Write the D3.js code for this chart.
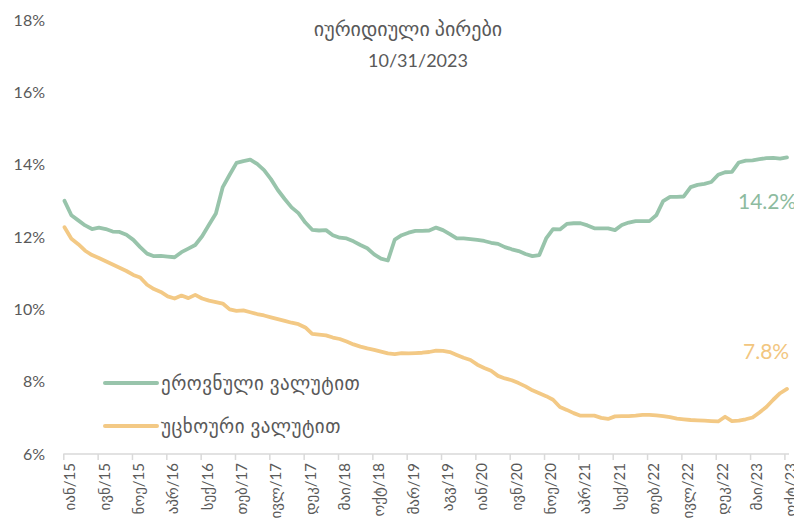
<!DOCTYPE html>
<html>
<head>
<meta charset="utf-8">
<script src="https://cdn.jsdelivr.net/npm/d3@7"></script>
<style>
  html, body { margin: 0; padding: 0; background: #ffffff; }
  svg { display: block; }
  text { font-family: "Lato", "DejaVu Sans", sans-serif; fill: #595959; }
</style>
</head>
<body>
<svg id="chart" width="794" height="526"></svg>
<script>
// Interest rates on loans to legal entities, monthly, Jan 2015 – Oct 2023 (%)
const titleLines = ["იურიდიული პირები", "10/31/2023"];
const seriesNames = ["ეროვნული ვალუტით", "უცხოური ვალუტით"];

const nationalCurrency = [
  13.00, 12.60, 12.46, 12.32, 12.22, 12.26, 12.22, 12.15, 12.14, 12.06, 11.92, 11.72,
  11.54, 11.47, 11.48, 11.46, 11.44, 11.58, 11.68, 11.78, 12.02, 12.34, 12.65, 13.38,
  13.72, 14.05, 14.10, 14.14, 14.02, 13.85, 13.60, 13.30, 13.05, 12.82, 12.66, 12.40,
  12.20, 12.18, 12.19, 12.05, 11.98, 11.96, 11.88, 11.78, 11.69, 11.52, 11.40, 11.35,
  11.93, 12.05, 12.12, 12.17, 12.17, 12.18, 12.26, 12.19, 12.08, 11.96, 11.96, 11.94,
  11.92, 11.89, 11.84, 11.81, 11.72, 11.66, 11.61, 11.53, 11.47, 11.50, 11.96, 12.22,
  12.21, 12.36, 12.38, 12.38, 12.32, 12.24, 12.24, 12.24, 12.19, 12.33, 12.40, 12.44,
  12.44, 12.44, 12.60, 12.99, 13.11, 13.11, 13.12, 13.38, 13.44, 13.47, 13.52, 13.72,
  13.79, 13.80, 14.06, 14.11, 14.12, 14.15, 14.18, 14.19, 14.17, 14.20
];

const foreignCurrency = [
  12.27, 11.95, 11.80, 11.62, 11.50, 11.42, 11.33, 11.24, 11.15, 11.06, 10.95, 10.88,
  10.68, 10.56, 10.48, 10.36, 10.30, 10.38, 10.31, 10.40, 10.30, 10.24, 10.20, 10.16,
  10.00, 9.96, 9.97, 9.92, 9.87, 9.83, 9.78, 9.73, 9.68, 9.63, 9.59, 9.50,
  9.32, 9.30, 9.28, 9.22, 9.18, 9.11, 9.03, 8.97, 8.92, 8.88, 8.83, 8.78,
  8.76, 8.79, 8.78, 8.79, 8.80, 8.82, 8.86, 8.85, 8.82, 8.74, 8.66, 8.60,
  8.47, 8.38, 8.30, 8.16, 8.09, 8.04, 7.96, 7.87, 7.76, 7.68, 7.60, 7.50,
  7.30, 7.22, 7.13, 7.06, 7.06, 7.06, 7.00, 6.97, 7.04, 7.05, 7.05, 7.06,
  7.08, 7.08, 7.07, 7.05, 7.02, 6.98, 6.96, 6.94, 6.93, 6.92, 6.91, 6.90,
  7.03, 6.91, 6.92, 6.96, 7.01, 7.15, 7.30, 7.50, 7.68, 7.80
];

// x-axis labels, one every fifth month starting from Jan 2015
const tickLabels = [
  "იან/15", "ივნ/15", "ნოე/15", "აპრ/16", "სექ/16", "თებ/17", "ივლ/17", "დეკ/17",
  "მაი/18", "ოქტ/18", "მარ/19", "აგვ/19", "იან/20", "ივნ/20", "ნოე/20", "აპრ/21",
  "სექ/21", "თებ/22", "ივლ/22", "დეკ/22", "მაი/23", "ოქტ/23"
];
const tickStep = 5;
const yTicks = [6, 8, 10, 12, 14, 16, 18];

const colors = ["#98c4ab", "#f3c985"];
const labelColors = ["#8dbb9f", "#f2c680"];

const svg = d3.select("#chart");

const n = nationalCurrency.length;
// series positions (month index -> px)
const x = d3.scaleLinear().domain([0, n - 1]).range([64.5, 787]);
// axis tick positions (month index -> px)
const xTicks = d3.scaleLinear().domain([0, n - 1]).range([63.3, 784.4]);
const y = d3.scaleLinear().domain([6, 18]).range([454, 20]);

// title
svg.append("text").attr("x", 408).attr("y", 36).attr("text-anchor", "middle")
  .style("font-size", "20px").text(titleLines[0]);
svg.append("text").attr("x", 418).attr("y", 67).attr("text-anchor", "middle")
  .style("font-size", "18px").text(titleLines[1]);

// y-axis labels (no axis line, no gridlines)
svg.append("g").selectAll("text").data(yTicks).join("text")
  .attr("x", 45).attr("y", d => y(d)).attr("dy", "0.36em")
  .attr("text-anchor", "end").style("font-size", "16px")
  .text(d => d + "%");

// x axis
const tickIdx = tickLabels.map((_, i) => i * tickStep);
const xAxis = d3.axisBottom(xTicks).tickValues(tickIdx).tickSize(6).tickSizeOuter(0)
  .tickFormat((d, i) => tickLabels[i]);
const gx = svg.append("g").attr("transform", `translate(0,${y(6)})`).call(xAxis);
gx.select(".domain").remove();
gx.append("line").attr("x1", xTicks(0)).attr("x2", x(n - 1) + 2).attr("y1", 0).attr("y2", 0)
  .attr("stroke", "#d9d9d9").attr("stroke-width", 1.5);
gx.selectAll(".tick line").attr("stroke", "#d9d9d9").attr("stroke-width", 1.5);
gx.selectAll(".tick text")
  .attr("transform", "translate(11.5,9) rotate(-90)")
  .attr("x", 0).attr("y", 0).attr("dy", 0)
  .attr("text-anchor", "end")
  .style("font-size", "15px").style("fill", "#595959")
  .style("font-family", "'Lato', 'DejaVu Sans', sans-serif");

// lines
const line = d3.line().x((d, i) => x(i)).y(d => y(d));
[nationalCurrency, foreignCurrency].forEach((s, k) => {
  svg.append("path").datum(s)
    .attr("fill", "none").attr("stroke", colors[k]).attr("stroke-width", 3.8)
    .attr("stroke-linejoin", "round").attr("stroke-linecap", "round")
    .attr("d", line);
});

// end-of-series value labels
const fmt = v => v.toFixed(1) + "%";
const lastIdx = n - 1;
svg.append("text").attr("x", 738).attr("y", y(nationalCurrency[lastIdx]) + 52)
  .style("font-size", "21px").style("fill", labelColors[0])
  .text(fmt(nationalCurrency[lastIdx]));
svg.append("text").attr("x", 743).attr("y", y(foreignCurrency[lastIdx]) - 30)
  .style("font-size", "21px").style("fill", labelColors[1])
  .text(fmt(foreignCurrency[lastIdx]));

// legend
const legend = svg.append("g");
seriesNames.forEach((name, k) => {
  const ly = 383 + k * 43;
  legend.append("line").attr("x1", 105).attr("x2", 157).attr("y1", ly).attr("y2", ly)
    .attr("stroke", colors[k]).attr("stroke-width", 4).attr("stroke-linecap", "round");
  legend.append("text").attr("x", 161).attr("y", ly).attr("dy", "0.35em")
    .style("font-size", "19px").style("letter-spacing", "0.5px").text(name);
});
</script>
</body>
</html>
